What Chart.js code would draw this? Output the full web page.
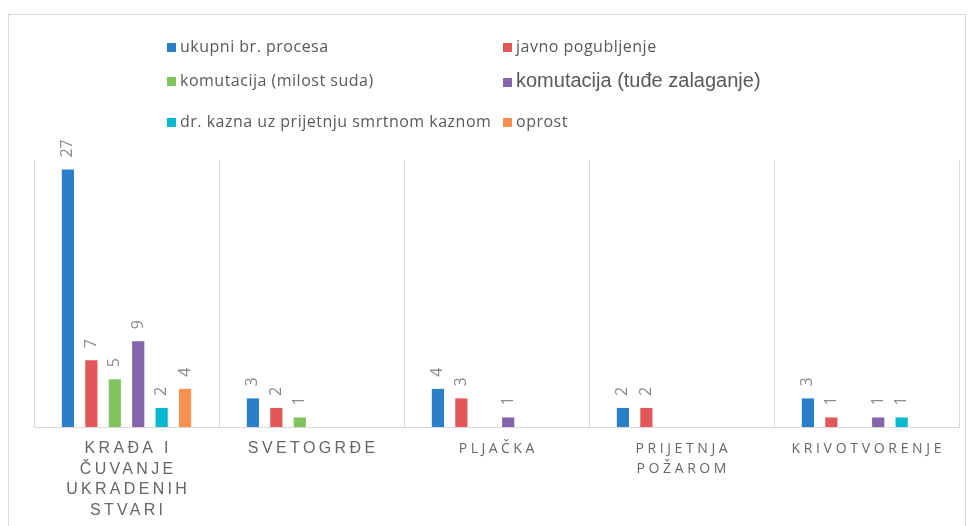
<!DOCTYPE html>
<html>
<head>
<meta charset="utf-8">
<script src="https://cdn.jsdelivr.net/npm/chart.js@4.4.1/dist/chart.umd.min.js"></script>
<style>
  body { margin: 0; background: #fff; }
  #wrap { position: relative; width: 974px; height: 526px; overflow: hidden; }
  #frame { position: absolute; left: 8px; top: 14px; width: 958px; height: 530px; border: 1px solid #d9d9d9; box-sizing: border-box; }
  canvas { position: absolute; left: 0; top: 0; }
  .lg { position: absolute; font-family: "Open Sans", sans-serif; font-size: 16px; letter-spacing: 0.5px; color: #595959; white-space: nowrap; line-height: 20px; }
  .lg span.box { display: inline-block; width: 9px; height: 9px; margin-right: 4px; vertical-align: 0px; }
</style>
</head>
<body>
<div id="wrap">
  <div id="frame"></div>
  <canvas id="myChart" width="974" height="526"></canvas>
  <div id="legend"></div>
</div>
<script>
const categories = [['KRAĐA I', 'ČUVANJE', 'UKRADENIH', 'STVARI'], 'SVETOGRĐE', 'PLJAČKA', ['PRIJETNJA', 'POŽAROM'], 'KRIVOTVORENJE']
const seriesNames = ['ukupni br. procesa', 'javno pogubljenje', 'komutacija (milost suda)', 'komutacija (tuđe zalaganje)', 'dr. kazna uz prijetnju smrtnom kaznom', 'oprost']
const ukupno = [27, 3, 4, 2, 3]
const pogubljenje = [7, 2, 3, 2, 1]
const milostSuda = [5, 1, null, null, null]
const zalaganje = [9, null, 1, null, 1]
const drKazna = [2, null, null, null, 1]
const oprost = [4, null, null, null, null]

const colors = ['#2a7fc8', '#e2585a', '#80c45f', '#8464ab', '#05b8ce', '#f79050']
const allSeries = [ukupno, pogubljenje, milostSuda, zalaganje, drKazna, oprost]

// legend spots (2 columns, 3 rows)
const legendPos = [[167, 36], [503, 36], [167, 70], [503, 70], [167, 111], [503, 111]]
const legendDiv = document.getElementById('legend')
seriesNames.forEach((name, i) => {
    const d = document.createElement('div')
    d.className = 'lg'
    d.style.left = legendPos[i][0] + 'px'
    d.style.top = legendPos[i][1] + 'px'
    if (i == 3) { d.style.fontFamily = '"Liberation Sans", Arial, sans-serif'; d.style.fontSize = '20px'; d.style.letterSpacing = '0px' }
    d.innerHTML = '<span class="box" style="background:' + colors[i] + '"></span>' + name
    legendDiv.appendChild(d)
})

// rotated value labels on top of bars
const valueLabels = {
    id: 'valueLabels',
    afterDatasetsDraw(chart) {
        const ctx = chart.ctx
        ctx.save()
        ctx.fillStyle = '#8c8c8c'
        ctx.font = '16px "Open Sans", sans-serif'
        ctx.textAlign = 'left'
        ctx.textBaseline = 'middle'
        chart.data.datasets.forEach((ds, i) => {
            chart.getDatasetMeta(i).data.forEach((bar, j) => {
                if (ds.data[j] == null) return
                ctx.save()
                ctx.translate(bar.x, bar.y - 12)
                ctx.rotate(-Math.PI / 2)
                ctx.fillText(ds.data[j], 0, 0)
                ctx.restore()
            })
        })
        ctx.restore()
    }
}

// spaced category labels under the axis
const labelFont = ['16px "Liberation Sans", Arial', '16px "Liberation Sans", Arial', '14px "Open Sans"', '14px "Open Sans"', '14px "Open Sans"']
const labelSpacing = [3.3, 3.4, 3.5, 3.6, 3.7]
const catLabels = {
    id: 'catLabels',
    afterDraw(chart) {
        const ctx = chart.ctx
        const x = chart.scales.x
        ctx.save()
        ctx.fillStyle = '#666666'
        ctx.textAlign = 'center'
        ctx.textBaseline = 'middle'
        categories.forEach((c, i) => {
            const lines = Array.isArray(c) ? c : [c]
            ctx.font = labelFont[i] + ', sans-serif'
            ctx.letterSpacing = labelSpacing[i] + 'px'
            lines.forEach((ln, k) => {
                ctx.fillText(ln, x.getPixelForValue(i) + labelSpacing[i] / 2, 449 + k * 20.5)
            })
        })
        ctx.restore()
    }
}

function createChart() {
    const chartie = document.getElementById('myChart')
    new Chart(chartie, {
        type: 'bar',
        data: {
            labels: categories,
            datasets: allSeries.map((s, i) => ({
                label: seriesNames[i],
                data: s,
                backgroundColor: colors[i],
                categoryPercentage: 0.76,
                barPercentage: 0.52
            }))
        },
        options: {
            responsive: false,
            animation: false,
            layout: { padding: { left: 34, right: 15, top: 160, bottom: 99 } },
            plugins: { legend: { display: false }, tooltip: { enabled: false } },
            scales: {
                x: {
                    ticks: { display: false },
                    grid: { color: '#d9d9d9', drawTicks: false, offset: true },
                    border: { color: '#d9d9d9' }
                },
                y: {
                    display: false,
                    min: 0,
                    max: 28
                }
            }
        },
        plugins: [valueLabels, catLabels]
    })
}

createChart()
</script>
</body>
</html>
